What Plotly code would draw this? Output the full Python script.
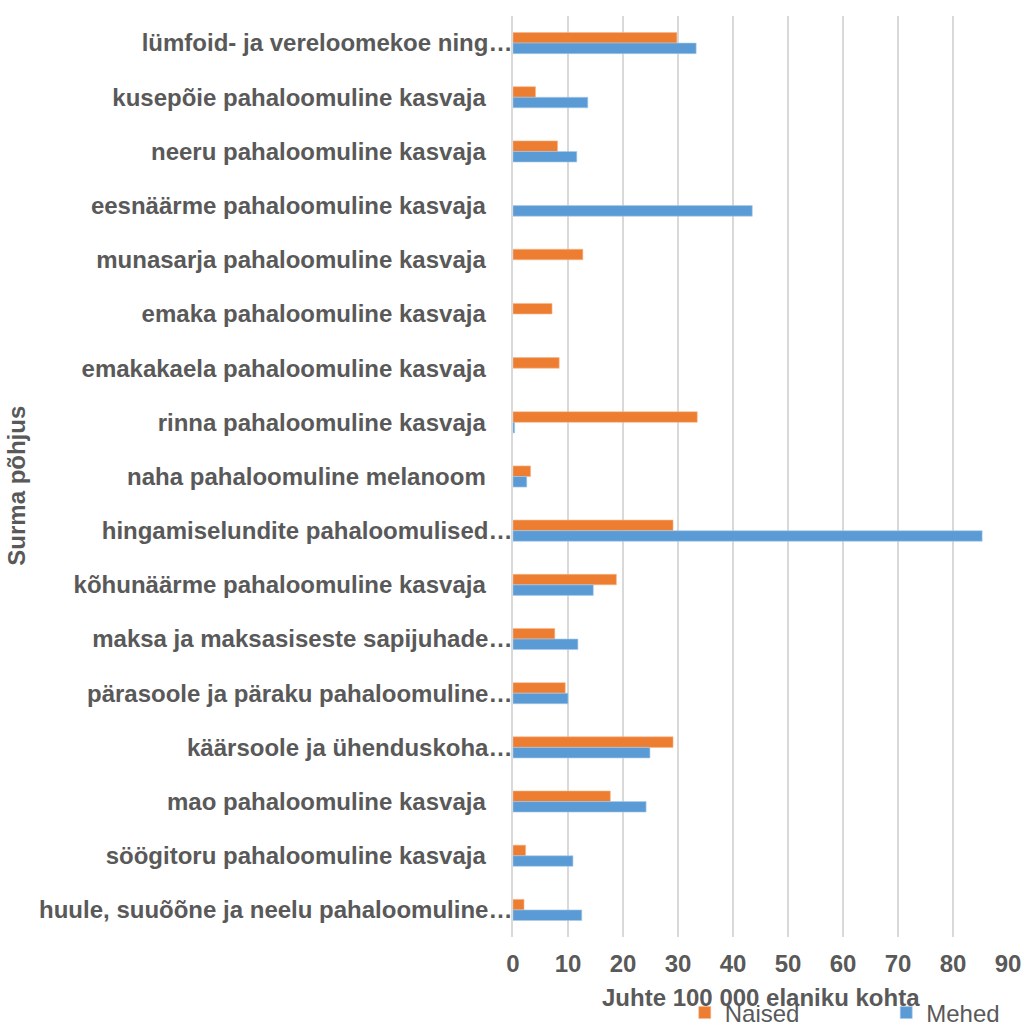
import plotly.graph_objects as go

# Cause-of-death categories, listed from top to bottom
categories = [
    "lümfoid- ja vereloomekoe ning…",
    "kusepõie pahaloomuline kasvaja",
    "neeru pahaloomuline kasvaja",
    "eesnäärme pahaloomuline kasvaja",
    "munasarja pahaloomuline kasvaja",
    "emaka pahaloomuline kasvaja",
    "emakakaela pahaloomuline kasvaja",
    "rinna pahaloomuline kasvaja",
    "naha pahaloomuline melanoom",
    "hingamiselundite pahaloomulised…",
    "kõhunäärme pahaloomuline kasvaja",
    "maksa ja maksasiseste sapijuhade…",
    "pärasoole ja päraku pahaloomuline…",
    "käärsoole ja ühenduskoha…",
    "mao pahaloomuline kasvaja",
    "söögitoru pahaloomuline kasvaja",
    "huule, suuõõne ja neelu pahaloomuline…",
]

# Cases per 100 000 inhabitants
naised = [29.8, 4.1, 8.1, None, 12.7, 7.1, 8.4, 33.5, 3.2, 29.1, 18.8, 7.6, 9.5, 29.1, 17.7, 2.3, 2.0]
mehed = [33.3, 13.6, 11.6, 43.5, None, None, None, 0.3, 2.5, 85.3, 14.6, 11.8, 10.0, 24.9, 24.2, 10.9, 12.5]

x_ticks = [0, 10, 20, 30, 40, 50, 60, 70, 80, 90]

# Labels that are not truncated get some trailing padding
tick_text = [c if c.endswith("…") else c + "\u00a0" * 4 for c in categories]

GRAY = "#595959"
FONT = "Liberation Sans"
BOLD = dict(family=FONT, color=GRAY, size=24, weight="bold")

fig = go.Figure()
fig.add_trace(go.Bar(
    y=categories, x=naised, name="Naised", orientation="h", legend="legend",
    marker=dict(color="#ed7d31", line=dict(color="#f6b98f", width=0.6)),
))
fig.add_trace(go.Bar(
    y=categories, x=mehed, name="Mehed", orientation="h", legend="legend2",
    marker=dict(color="#5b9bd5", line=dict(color="#a9cbea", width=0.6)),
))

legend_common = dict(
    orientation="h", xref="paper", xanchor="left",
    yref="container", y=0.0127, yanchor="middle",
    font=dict(size=24, color=GRAY, family=FONT),
    bgcolor="rgba(0,0,0,0)", itemclick=False, itemdoubleclick=False,
)

fig.update_layout(
    width=1023, height=1026,
    margin=dict(l=513, r=15, t=16, b=89, autoexpand=False),
    paper_bgcolor="white", plot_bgcolor="white",
    barmode="group", bargap=0.61, bargroupgap=0,
    font=dict(family=FONT, color=GRAY, size=24),
    showlegend=True,
    legend=dict(x=0.347, **legend_common),
    legend2=dict(x=0.754, **legend_common),
    xaxis=dict(
        range=[0, 90], tickvals=x_ticks, ticks="",
        showgrid=True, gridcolor="#d9d9d9", gridwidth=1.5,
        zeroline=False, showline=False, automargin=False,
        tickfont=BOLD, ticklabelstandoff=10,
    ),
    yaxis=dict(
        categoryorder="array", categoryarray=categories,
        autorange="reversed", automargin=False,
        tickvals=categories, ticktext=tick_text,
        ticks="", ticklabelstandoff=-6,
        showline=True, linecolor="#d9d9d9", linewidth=1.5,
        showgrid=False, tickfont=BOLD,
    ),
    annotations=[
        dict(text="Juhte 100 000 elaniku kohta", xref="paper", yref="paper",
             x=0.5, y=-0.0662, xanchor="center", yanchor="middle",
             showarrow=False, font=BOLD),
        dict(text="Surma põhjus", xref="paper", yref="paper",
             x=-1.002, y=0.49, xanchor="center", yanchor="middle",
             textangle=-90, showarrow=False, font=BOLD),
    ],
)

fig.write_html("out.html")
